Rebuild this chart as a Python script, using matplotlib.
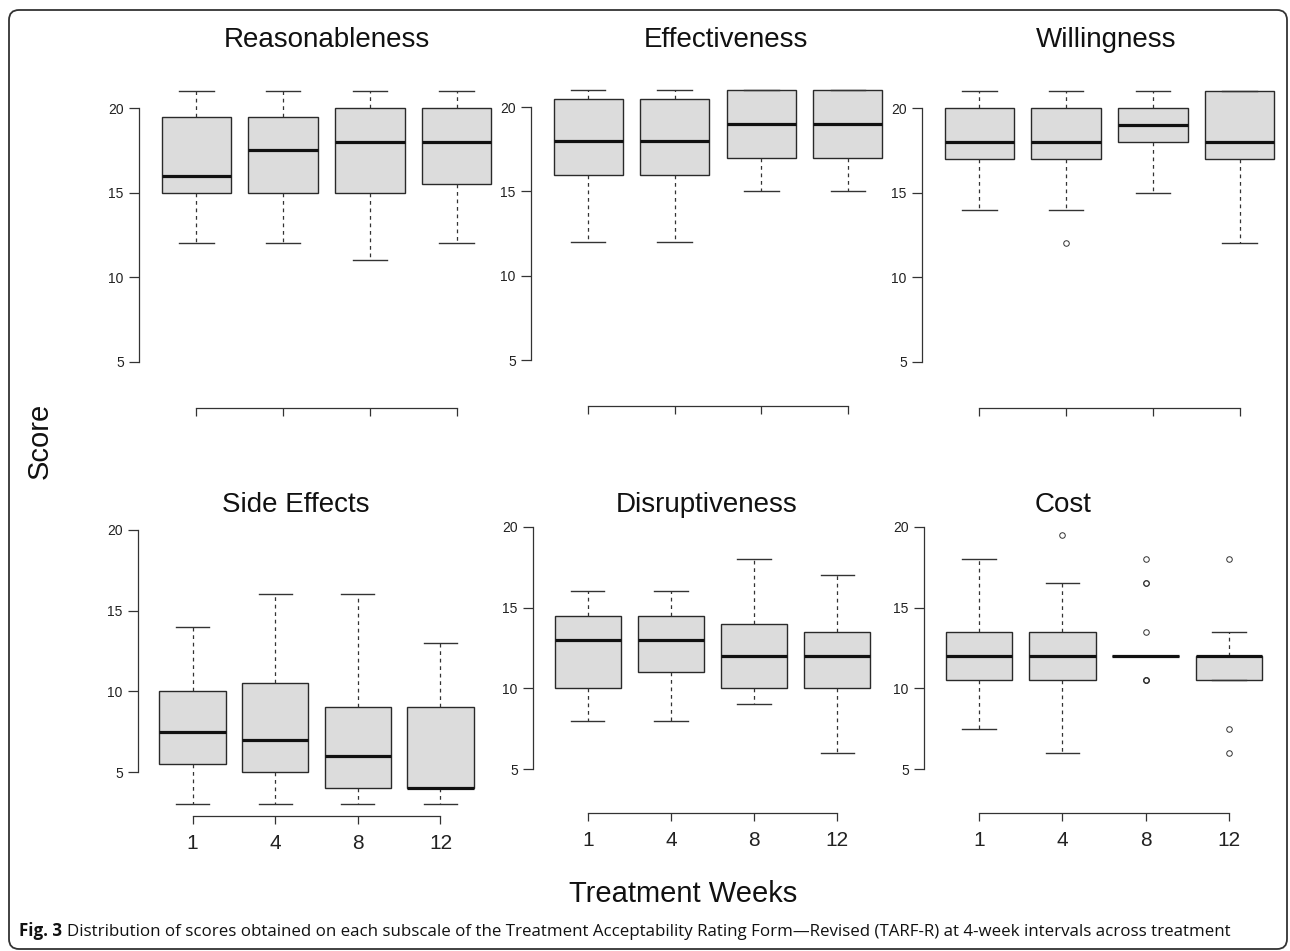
import matplotlib
matplotlib.use('Agg')
import matplotlib.pyplot as plt
from matplotlib.patches import FancyBboxPatch
from matplotlib.transforms import IdentityTransform

W, H = 1290, 951

weeks = ['1', '4', '8', '12']

# per week: [low whisker, q1, median, q3, high whisker]
reasonableness = [[12, 15, 16, 19.5, 21], [12, 15, 17.5, 19.5, 21],
                  [11, 15, 18, 20, 21], [12, 15.5, 18, 20, 21]]
reasonableness_out = [[], [], [], []]

effectiveness = [[12, 16, 18, 20.5, 21], [12, 16, 18, 20.5, 21],
                 [15, 17, 19, 21, 21], [15, 17, 19, 21, 21]]
effectiveness_out = [[], [], [], []]

willingness = [[14, 17, 18, 20, 21], [14, 17, 18, 20, 21],
               [15, 18, 19, 20, 21], [12, 17, 18, 21, 21]]
willingness_out = [[], [12], [], []]

side_effects = [[3, 5.5, 7.5, 10, 14], [3, 5, 7, 10.5, 16],
                [3, 4, 6, 9, 16], [3, 4, 4, 9, 13]]
side_effects_out = [[], [], [], []]

disruptiveness = [[8, 10, 13, 14.5, 16], [8, 11, 13, 14.5, 16],
                  [9, 10, 12, 14, 18], [6, 10, 12, 13.5, 17]]
disruptiveness_out = [[], [], [], []]

cost = [[7.5, 10.5, 12, 13.5, 18], [6, 10.5, 12, 13.5, 16.5],
        [12, 12, 12, 12, 12], [10.5, 10.5, 12, 12, 13.5]]
cost_out = [[], [19.5], [18, 16.5, 16.5, 13.5, 10.5, 10.5, 10.5], [18, 7.5, 6]]

titles = ['Reasonableness', 'Effectiveness', 'Willingness',
          'Side Effects', 'Disruptiveness', 'Cost']
panels = [(reasonableness, reasonableness_out), (effectiveness, effectiveness_out),
          (willingness, willingness_out), (side_effects, side_effects_out),
          (disruptiveness, disruptiveness_out), (cost, cost_out)]

# panel boxes in pixels: left, right, top, bottom
rects = [(139, 514, 79, 408), (531, 905, 78, 406), (922, 1297, 79, 408),
         (138, 495, 502, 816), (533, 892, 499, 813), (924, 1284, 499, 813)]
title_pos = [(327, 47), (726, 47), (1106, 47), (296, 512), (707, 512), (1063, 512)]

plt.rcParams['font.family'] = ['Liberation Sans', 'DejaVu Sans']

fig = plt.figure(figsize=(W / 100, H / 100), dpi=100)


def to_fig(l, r, t, b):
    return [l / W, (H - b) / H, (r - l) / W, (b - t) / H]


for i, ((vals, outs), rect) in enumerate(zip(panels, rects)):
    ax = fig.add_axes(to_fig(*rect))
    ax.patch.set_alpha(0)
    stats = []
    for v, o in zip(vals, outs):
        stats.append(dict(whislo=v[0], q1=v[1], med=v[2], q3=v[3], whishi=v[4], fliers=o))
    ax.bxp(stats, positions=[1, 2, 3, 4], widths=0.8, capwidths=0.4,
           patch_artist=True, manage_ticks=False,
           boxprops=dict(facecolor='#dcdcdc', edgecolor='#2a2a2a', linewidth=1.0),
           medianprops=dict(color='#111111', linewidth=2.3, solid_capstyle='butt'),
           whiskerprops=dict(color='#333333', linewidth=0.9, linestyle=(0, (3, 3))),
           capprops=dict(color='#333333', linewidth=1.0),
           flierprops=dict(marker='o', markerfacecolor='none', markeredgecolor='#333333',
                           markersize=4, markeredgewidth=0.7))
    ax.set_xlim(0.34, 4.66)
    ax.set_ylim(2.28, 21.72)
    for s in ['top', 'right']:
        ax.spines[s].set_visible(False)
    ax.spines['left'].set_bounds(5, 20)
    ax.spines['bottom'].set_bounds(1, 4)
    for s in ['left', 'bottom']:
        ax.spines[s].set_color('#333333')
        ax.spines[s].set_linewidth(0.9)
    ax.set_yticks([5, 10, 15, 20])
    ax.tick_params(axis='y', length=7, width=0.9, color='#333333', pad=4,
                   labelsize=10, labelcolor='#222222')
    ax.set_xticks([1, 2, 3, 4])
    if i >= 3:
        ax.set_xticklabels(weeks)
    else:
        ax.set_xticklabels(['', '', '', ''])
    ax.tick_params(axis='x', length=6, width=0.9, color='#333333', pad=7,
                   labelsize=15, labelcolor='#222222')
    tx, ty = title_pos[i]
    fig.text(tx / W, 1 - ty / H, titles[i], fontsize=20, ha='center', va='baseline',
             color='#111111')

fig.text(40 / W, 1 - 441 / H, 'Score', rotation=90, fontsize=21, ha='center', va='center',
         color='#111111')
fig.text(683 / W, 1 - 902 / H, 'Treatment Weeks', fontsize=21, ha='center', va='baseline',
         color='#111111')

# caption: bold "Fig. 3" followed by regular text
renderer = fig.canvas.get_renderer()
t1 = fig.text(19 / W, 1 - 936 / H, 'Fig. 3', fontsize=12.2, fontweight='bold',
              family=['Open Sans', 'DejaVu Sans'], va='baseline', color='#111111')
bb = t1.get_window_extent(renderer=renderer)
fig.text((bb.x1 + 5) / W, 1 - 936 / H,
         'Distribution of scores obtained on each subscale of the Treatment Acceptability '
         'Rating Form\u2014Revised (TARF-R) at 4-week intervals across treatment',
         fontsize=12.2, family=['Open Sans', 'DejaVu Sans'], va='baseline', color='#111111')

# rounded frame around the figure
frame = FancyBboxPatch((9, 2), 1278, 939, boxstyle='round,pad=0,rounding_size=10',
                       transform=IdentityTransform(), facecolor='none',
                       edgecolor='#333333', linewidth=1.3)
fig.patches.append(frame)

fig.savefig('out.png', dpi=100)
